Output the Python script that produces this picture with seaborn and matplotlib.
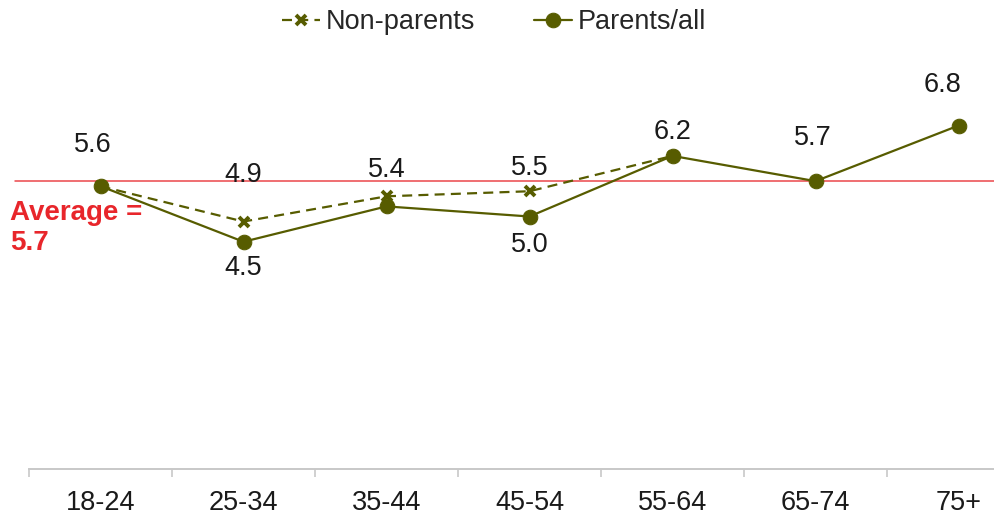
import matplotlib
matplotlib.use("Agg")
import matplotlib.pyplot as plt
import matplotlib.ticker as mticker
import seaborn as sns
import pandas as pd

# Age bands and mean scores
age_groups = ["18-24", "25-34", "35-44", "45-54", "55-64", "65-74", "75+"]
parents_all = [5.6, 4.5, 5.2, 5.0, 6.2, 5.7, 6.8]
non_parents = [5.6, 4.9, 5.4, 5.5, 6.2]
average_score = 5.7

# Which points carry a value label
parents_labelled = [True, True, False, True, True, True, True]
non_parents_labelled = [False, True, True, True, False]

sns.set_style("white")
plt.rcParams["font.family"] = ["Liberation Sans", "DejaVu Sans"]

olive = "#575c00"
red = "#e8262b"
text_size = 19.5

fig = plt.figure(figsize=(9.94, 5.15), dpi=100)
# plot area runs slightly past the right edge of the canvas
ax = fig.add_axes([29 / 994, 1 - 469 / 515, 1001 / 994, 454.5 / 515])

df_non = pd.DataFrame({"age": age_groups[:len(non_parents)], "score": non_parents})
df_par = pd.DataFrame({"age": age_groups, "score": parents_all})

sns.lineplot(data=df_non, x="age", y="score", ax=ax, sort=False,
             color=olive, linewidth=1.6, linestyle=(0, (4.5, 2.8)),
             marker="x", markersize=7.5, markeredgewidth=2.8,
             markeredgecolor=olive, label="Non-parents")
sns.lineplot(data=df_par, x="age", y="score", ax=ax, sort=False,
             color=olive, linewidth=1.6, marker="o", markersize=10.5,
             markeredgecolor=olive, label="Parents/all")

# average reference line
ax.axhline(average_score, xmin=-0.014, xmax=1, color=red, linewidth=1.1,
           alpha=0.85, clip_on=False, zorder=1)
fig.text(10 / 994, 1 - 228 / 515, "Average =\n" + f"{average_score:.1f}",
         color=red, fontsize=20, fontweight="bold", ha="left", va="center",
         linespacing=1.2)

# value labels (offsets in pixels)
par_offsets = [(-8, 41), (0, -26), (0, 0), (0, -28), (0, 24), (-3, 43), (-16, 41)]
non_offsets = [(0, 0), (0, 47), (0, 26), (0, 23), (0, 0)]
for i, (v, show) in enumerate(zip(parents_all, parents_labelled)):
    if show:
        ax.annotate(f"{v:.1f}", (i, v), xytext=par_offsets[i],
                    textcoords="offset pixels", ha="center", va="center",
                    fontsize=text_size, color="#1a1a1a")
for i, (v, show) in enumerate(zip(non_parents, non_parents_labelled)):
    if show:
        ax.annotate(f"{v:.1f}", (i, v), xytext=non_offsets[i],
                    textcoords="offset pixels", ha="center", va="center",
                    fontsize=text_size, color="#1a1a1a")

ax.set_xlim(-0.5, len(age_groups) - 0.5)
ax.set_ylim(0, 9)
ax.set_xlabel("")
ax.set_ylabel("")
ax.set_yticks([])

# category labels centred, tick marks at category boundaries
ax.xaxis.set_major_locator(mticker.FixedLocator(range(len(age_groups))))
ax.set_xticklabels(age_groups, fontsize=text_size, color="#1a1a1a")
ax.xaxis.set_minor_locator(mticker.FixedLocator(
    [i - 0.5 for i in range(len(age_groups) + 1)]))
ax.tick_params(axis="x", which="both", bottom=True)
ax.tick_params(axis="x", which="major", length=0, pad=15)
ax.tick_params(axis="x", which="minor", length=6, width=1.2,
               color="#c8c8c8", direction="out")

for side in ["top", "right", "left"]:
    ax.spines[side].set_visible(False)
ax.spines["bottom"].set_color("#c8c8c8")
ax.spines["bottom"].set_linewidth(1.4)

ax.legend(loc="center", bbox_to_anchor=(494 / 994, 1 - 22 / 515),
          bbox_transform=fig.transFigure, ncol=2, frameon=False,
          fontsize=text_size, handlelength=1.4, handletextpad=0.2,
          columnspacing=2.2)

fig.savefig("out.png", dpi=100)
